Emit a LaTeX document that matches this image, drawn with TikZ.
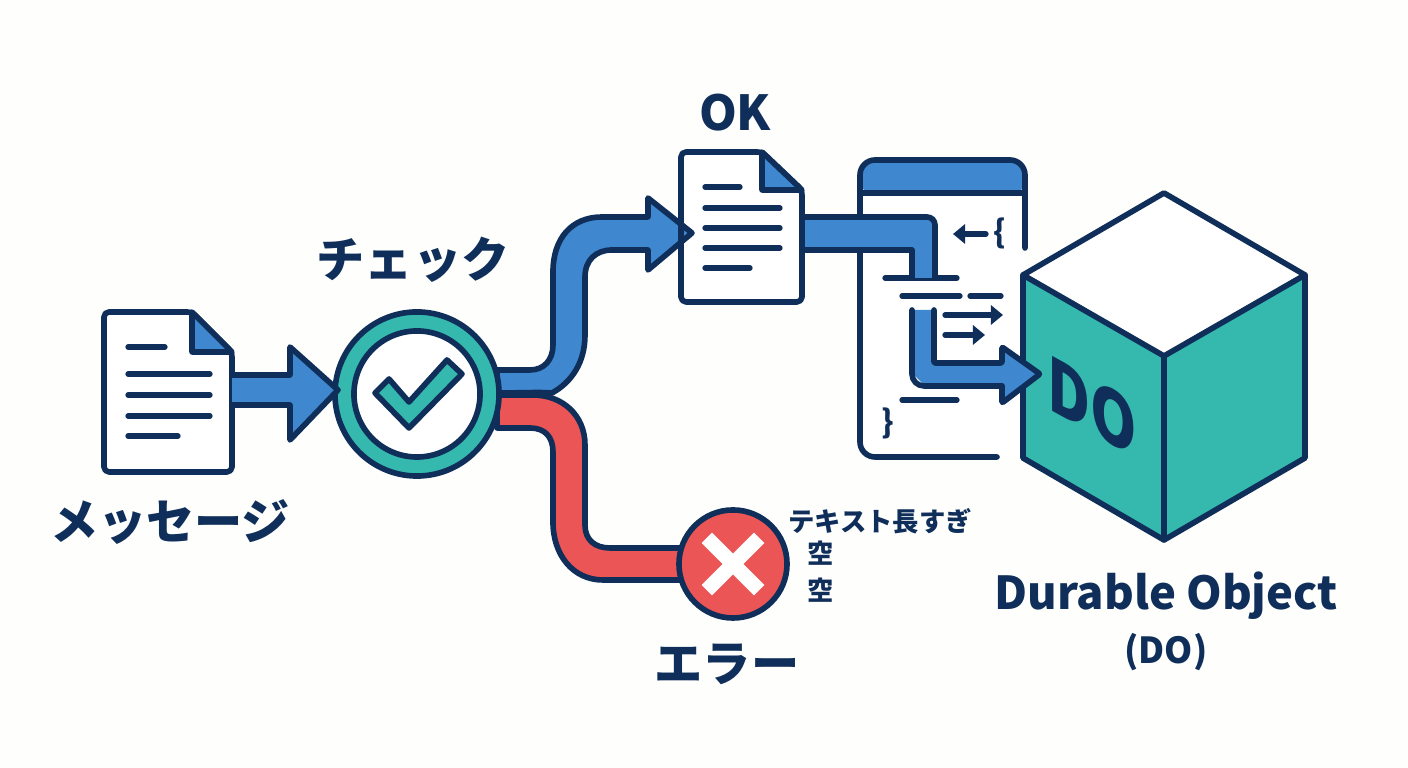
\documentclass[tikz,border=0pt]{standalone}
\usepackage{fontspec}
\setmainfont{Noto Sans CJK JP}
\usetikzlibrary{arrows.meta,positioning,calc}
\definecolor{navy}{HTML}{0F2F5A}
\definecolor{pipeblue}{HTML}{3F88CF}
\definecolor{nice teal}{HTML}{35B8AD}
\definecolor{nice red}{HTML}{EB5555}
\definecolor{paper}{HTML}{FEFEFD}
\tikzset{
    % Outlines
    outline/.style={draw=navy,line width=1.6pt,line join=round,line cap=round},
    textline/.style={draw=navy,line width=1.5pt,line cap=round},
    blue pipe/.style={outline,fill=pipeblue},
    red pipe/.style={outline,fill=nice red},
    %
    % Labels
    big label/.style={font=\fontsize{13.7}{14}\selectfont\bfseries,text=navy,inner sep=0pt},
    small label/.style={font=\fontsize{7.5}{8}\selectfont\bfseries,text=navy,inner sep=0pt},
    brace label/.style={font=\fontsize{9}{10}\selectfont\bfseries,text=navy,inner sep=0pt},
    %
    % Arrows
    arr/.style={textline,-{Stealth[length=.12cm,width=.19cm,inset=0pt]}},
}
\begin{document}
\begin{tikzpicture}[x=.01cm,y=-.01cm]
    \fill[paper] (0,0) rectangle (1408,768);
    \useasboundingbox (0,0) rectangle (1408,768);
    % code window
    \fill[white] (860,160) rectangle (1025,457);
    \fill[pipeblue,rounded corners=.12cm] (860,160) -- (1025,160) -- (1025,193) -- (860,193) -- cycle;
    \draw[outline,rounded corners=.15cm] (1025,248) -- (1025,160) -- (860,160) -- (860,457) -- (997,457);
    \draw[outline] (860,193) -- (1025,193);
    \foreach \xa/\xb/\y in {885/957/278,902/960/296,970/1001/296,902/957/400} {
        \draw[textline] (\xa,\y) -- (\xb,\y);
    };
    \draw[arr] (986,234) -- (953,234);
    \draw[arr] (945,315) -- (1003,315);
    \draw[arr] (945,335) -- (985,335);
    \node[brace label] (open brace) at (1000,233) {\{};
    \node[brace label] (close brace) at (888,423) {\}};
    % cube
    \node[inner sep=0pt] (cube) at (1164,366) {};
    \fill[white] (1164,193) -- (1305,275) -- (1164,356) -- (1023,275) -- cycle;
    \fill[nice teal] (1023,275) -- (1164,356) -- (1305,275) -- (1305,458) -- (1164,540) -- (1023,458) -- cycle;
    \draw[outline] (1164,193) -- (1305,275) -- (1305,458) -- (1164,540) -- (1023,458) -- (1023,275) -- cycle;
    \draw[outline] (1023,275) -- (1164,356) -- (1305,275) (1164,356) -- (1164,540);
    \begin{scope}[shift={(1092,406)},yslant=-.55,xscale=.8]
        \node[transform shape,font=\fontsize{21}{21}\selectfont\bfseries,text=navy,inner sep=0pt] (do label) at (0,0) {DO};
    \end{scope}
    % pipes inside the window
    \fill[pipeblue] (802,217) -- (935,217) -- (935,278) -- (912,278) -- (912,250) -- (802,250) -- cycle;
    \draw[outline,rounded corners=.08cm] (802,217) -- (935,217) -- (935,278);
    \draw[outline] (912,278) -- (912,250) -- (802,250);
    \fill[pipeblue] (912,310) -- (934,310) -- (934,363) -- (1002,363) -- (1002,347) -- (1040,374) -- (1002,403) -- (1002,386) -- (925,386) -- (912,373) -- cycle;
    \draw[outline,rounded corners=.01cm] (934,310) -- (934,363) -- (1002,363) -- (1002,347) -- (1040,374) -- (1002,403) -- (1002,386);
    \draw[outline,rounded corners=.12cm] (1002,386) -- (912,386) -- (912,310);
    % ok document, paper only
    \begin{scope}[shift={(681,152)}]
        \fill[white] (0,0) -- (81,0) -- (121,38) -- (121,150) -- (0,150) -- cycle;
    \end{scope}
    % split behind the check
    \draw[red pipe] (497,395) -- (533,395) .. controls (562,395) and (585,415) .. (585,445) -- (585,525) .. controls (585,540) and (595,548) .. (610,548) -- (690,548) -- (690,580) -- (603,580) .. controls (573,580) and (553,555) .. (553,522) -- (553,452) .. controls (553,437) and (545,428) .. (530,428) -- (497,428) -- cycle;
    \draw[blue pipe] (497,370) -- (530,370) .. controls (544,370) and (553,360) .. (553,345) -- (553,272) .. controls (553,238) and (572,217) .. (602,217) -- (648,217) -- (648,198) -- (692,233) -- (648,270) -- (648,250) -- (612,250) .. controls (596,250) and (585,260) .. (585,277) -- (585,335) .. controls (585,362) and (572,382) .. (552,393) .. controls (540,392) and (520,393) .. (497,393) -- cycle;
    % check
    \node[circle,draw=navy,line width=1.6pt,fill=nice teal,minimum size=1.64cm,inner sep=0pt] (check) at (417,394) {};
    \node[circle,draw=navy,line width=1.6pt,fill=white,minimum size=1.26cm,inner sep=0pt] (check inner) at (check.center) {};
    \draw[outline,fill=nice teal] (375,393) -- (389,379) -- (409,402) -- (447,360) -- (462,374) -- (409,428) -- cycle;
    \node[big label] (check label) at (413,260) {チェック};
    % message document
    \begin{scope}[shift={(104,312)}]
        \draw[outline,fill=white,rounded corners=.05cm] (0,0) -- (88,0) -- (128,40) -- (128,160) -- (0,160) -- cycle;
        \draw[outline,fill=pipeblue] (88,0) -- (128,40) -- (88,40) -- cycle;
        \draw[textline] (24,35) -- (61,35);
        \foreach \y in {62,83,104} {
            \draw[textline] (24,\y) -- (106,\y);
        };
        \draw[textline] (24,124) -- (74,124);
        \coordinate (msg out) at (128,78);
    \end{scope}
    \node[big label] (msg label) at (170,522) {メッセージ};
    \draw[blue pipe] (msg out) ++(0,-15) -- (290,375) -- (290,347) -- (338,390) -- (290,440) -- (290,405) -- (232,405);
    % ok document
    \begin{scope}[shift={(681,152)}]
        \draw[outline,rounded corners=.05cm] (0,0) -- (81,0) -- (121,38) -- (121,150) -- (0,150) -- cycle;
        \draw[outline,fill=pipeblue] (81,0) -- (121,38) -- (81,38) -- cycle;
        \draw[textline] (24,35) -- (59,35);
        \foreach \y in {56,76,96} {
            \draw[textline] (24,\y) -- (99,\y);
        };
        \draw[textline] (24,116) -- (69,116);
    \end{scope}
    \node[big label] (ok label) at (735,113) {OK};
    % error
    \node[circle,draw=navy,line width=1.6pt,fill=nice red,minimum size=1.08cm,inner sep=0pt] (err) at (733,564) {};
    \draw[white,line width=4.2pt,line cap=rect] (err.center) ++(-21,-21) -- ++(42,42) ++(-42,0) -- ++(42,-42);
    \node[big label] (err label) at (727,664) {エラー};
    \node[small label] (too long) at (880,521) {テキスト長すぎ};
    \node[small label] (empty one) at (821,553) {空};
    \node[small label] (empty two) at (821,590) {空};
    % cube labels
    \node[big label,font=\fontsize{12.9}{14}\selectfont\bfseries] (cube label) at (1166,596) {Durable Object};
    \node[big label,font=\fontsize{10.2}{11}\selectfont\bfseries] (cube short) at (1166,652) {(DO)};
\end{tikzpicture}
\end{document}
